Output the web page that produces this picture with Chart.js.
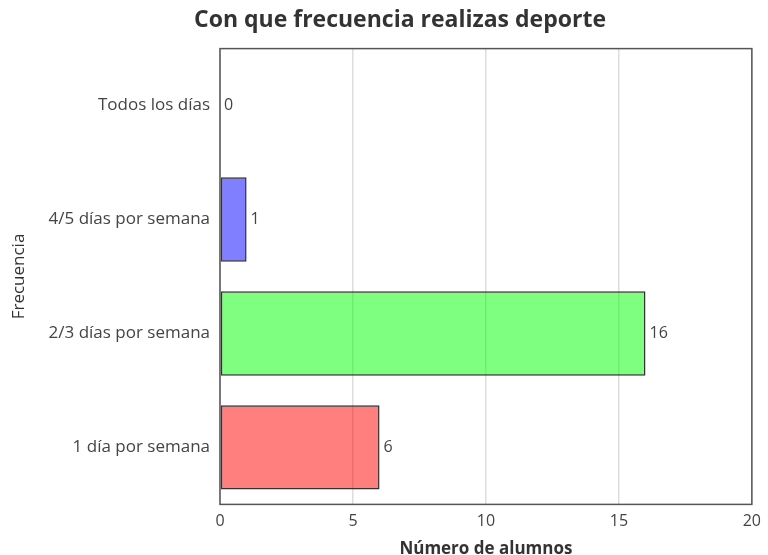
<!DOCTYPE html>
<html>
<head>
<meta charset="utf-8">
<script src="https://cdn.jsdelivr.net/npm/chart.js@4.4.1/dist/chart.umd.min.js"></script>
<style>
  html, body { margin: 0; padding: 0; background: #fff; }
  #wrap { width: 768px; height: 555px; }
</style>
</head>
<body>
<div id="wrap"><canvas id="myChart"></canvas></div>
<script>
const categories = ['Todos los días', '4/5 días por semana', '2/3 días por semana', '1 día por semana'];
const values = [0, 1, 16, 6];
const barColors = ['rgba(255,255,0,0.5)', 'rgba(0,0,255,0.5)', 'rgba(0,255,0,0.5)', 'rgba(255,0,0,0.5)'];
const xTicks = [0, 5, 10, 15, 20];

Chart.defaults.font.family = '"Open Sans", sans-serif';
Chart.defaults.color = '#444';

// box around the plot area
const frame = {
    id: 'frame',
    afterDatasetsDraw(chart) {
        const a = chart.chartArea, c = chart.ctx;
        c.save();
        c.strokeStyle = '#555';
        c.lineWidth = 1.5;
        c.strokeRect(a.left, a.top, a.right - a.left, a.bottom - a.top);
        c.restore();
    }
};

// value next to each bar
const barLabels = {
    id: 'barLabels',
    afterDatasetsDraw(chart) {
        const c = chart.ctx;
        const meta = chart.getDatasetMeta(0);
        c.save();
        c.font = '16px "Open Sans", sans-serif';
        c.fillStyle = '#444';
        c.textBaseline = 'middle';
        c.textAlign = 'left';
        meta.data.forEach(function(bar, i) {
            c.fillText(values[i], bar.x + 4, bar.y);
        });
        c.restore();
    }
};

const ctx = document.getElementById('myChart').getContext('2d');
const myChart = new Chart(ctx, {
    type: 'bar',
    data: {
        labels: categories,
        datasets: [{
            data: values,
            backgroundColor: barColors,
            borderColor: '#333',
            borderWidth: 1.5,
            borderSkipped: false,
            categoryPercentage: 1,
            barPercentage: 0.74
        }]
    },
    options: {
        indexAxis: 'y',
        responsive: true,
        maintainAspectRatio: false,
        animation: false,
        layout: { padding: { left: 45, right: 13, top: 0, bottom: 0 } },
        plugins: {
            legend: { display: false },
            tooltip: { enabled: false },
            title: {
                display: true,
                text: 'Con que frecuencia realizas deporte',
                color: '#333',
                font: { size: 23, weight: 'bold' },
                padding: { top: 7, bottom: 14 }
            }
        },
        scales: {
            x: {
                min: 0,
                max: 20,
                afterBuildTicks(scale) {
                    scale.ticks = xTicks.map(v => ({ value: v }));
                },
                grid: { color: '#ddd', lineWidth: 1.5, drawTicks: false },
                border: { display: false },
                ticks: { font: { size: 16 }, color: '#444', padding: 7 },
                title: {
                    display: true,
                    text: 'Número de alumnos',
                    color: '#333',
                    font: { size: 17, weight: 'bold' },
                    padding: { top: 1, bottom: -4 }
                }
            },
            y: {
                grid: { display: false, drawTicks: false },
                border: { display: false },
                ticks: { font: { size: 17 }, color: '#444', padding: 10 },
                afterFit(scale) { scale.width = 175; },
                title: {
                    display: true,
                    text: 'Frecuencia',
                    color: '#333',
                    font: { size: 17 },
                    padding: { top: -36, bottom: 0 }
                }
            }
        }
    },
    plugins: [frame, barLabels]
});
</script>
</body>
</html>
